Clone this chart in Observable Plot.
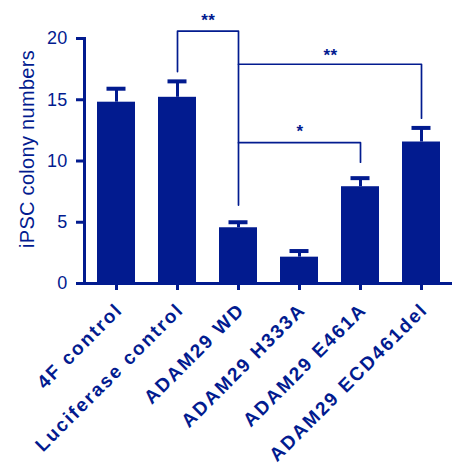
<!DOCTYPE html>
<html>
<head>
<meta charset="utf-8">
<script src="https://cdn.jsdelivr.net/npm/d3@7"></script>
<script src="https://cdn.jsdelivr.net/npm/@observablehq/plot@0.6"></script>
<style>
  body { margin: 0; background: #fff; }
</style>
</head>
<body>
<div id="chart"></div>
<script>
// Colony counts per transduction group (mean and SEM)
const groups = ["4F control", "Luciferase control", "ADAM29 WD", "ADAM29 H333A", "ADAM29 E461A", "ADAM29 ECD461del"];
const colonies = [14.8, 15.2, 4.55, 2.15, 7.9, 11.55];
const sem = [1.1, 1.3, 0.45, 0.5, 0.7, 1.15];
const yTicks = [0, 5, 10, 15, 20];
const yTitle = "iPSC colony numbers";

// Significance brackets: compared groups, bracket level, leg ends, star label
const bracketFrom = ["Luciferase control", "ADAM29 WD", "ADAM29 WD"];
const bracketTo = ["ADAM29 WD", "ADAM29 ECD461del", "ADAM29 E461A"];
const bracketLevel = [20.6, 17.9, 11.5];
const bracketFromEnd = [17.3, 17.9, 11.5];
const bracketToEnd = [6.4, 13.5, 9.9];
const sigLabels = ["**", "**", "*"];
const sigLabelY = [21.5, 18.6, 12.4];

const navy = "#021b8f";
const W = 456, H = 467;
const M = {top: 38, right: 4, bottom: 184, left: 84};
const paddingInner = 0.38, paddingOuter = 0.19;
const step = (W - M.left - M.right) / (groups.length - paddingInner + 2 * paddingOuter);

const bars = groups.map((g, i) => ({group: g, value: colonies[i], err: sem[i]}));

const bracketPoints = bracketFrom.flatMap((from, k) => [
  {k, group: from, y: bracketFromEnd[k]},
  {k, group: from, y: bracketLevel[k]},
  {k, group: bracketTo[k], y: bracketLevel[k]},
  {k, group: bracketTo[k], y: bracketToEnd[k]}
]);

// star labels sit midway between the two compared bars
const sigText = sigLabels.map((s, k) => ({
  group: bracketFrom[k],
  y: sigLabelY[k],
  text: s,
  shift: (groups.indexOf(bracketTo[k]) - groups.indexOf(bracketFrom[k])) * step / 2
}));

const chart = Plot.plot({
  width: W,
  height: H,
  marginTop: M.top,
  marginRight: M.right,
  marginBottom: M.bottom,
  marginLeft: M.left,
  style: {fontFamily: "'Liberation Sans', Arial, sans-serif", color: navy, background: "#fff", letterSpacing: "0.3px"},
  x: {domain: groups, paddingInner, paddingOuter},
  y: {domain: [0, 20]},
  marks: [
    Plot.barY(bars, {x: "group", y: "value", fill: navy}),
    Plot.ruleX(bars, {x: "group", y1: "value", y2: d => d.value + d.err, stroke: navy, strokeWidth: 3}),
    Plot.tickY(bars, {x: "group", y: d => d.value + d.err, stroke: navy, strokeWidth: 4, inset: 9.5}),
    Plot.line(bracketPoints, {x: "group", y: "y", z: "k", stroke: navy, strokeWidth: 1.7, curve: "linear"}),
    ...sigText.map(d => Plot.text([d], {x: "group", y: "y", text: "text", dx: d.shift, fill: navy, fontSize: 17, fontWeight: "bold"})),
    Plot.ruleY([0], {stroke: navy, strokeWidth: 3}),
    Plot.frame({anchor: "left", stroke: navy, strokeWidth: 3}),
    Plot.axisY({
      ticks: yTicks, tickSize: 8, tickPadding: 9, strokeWidth: 3, stroke: navy, fill: navy,
      fontSize: 18, label: null
    }),
    Plot.text([yTitle], {frameAnchor: "left", textAnchor: "middle", rotate: -90, dx: -57, dy: -12, fontSize: 20, fill: navy}),
    // tick marks only
    Plot.axisX({tickSize: 7, strokeWidth: 3, stroke: navy, fill: "none", label: null}),
    // rotated category labels
    Plot.axisX({
      tickSize: 0, tickRotate: -45, tickPadding: 23, dx: 3,
      fontSize: 19, fontWeight: "bold", fill: navy, label: null
    })
  ]
});

// wider tracking on the category labels
chart.querySelectorAll('g[aria-label="x-axis tick label"]').forEach(g => g.style.letterSpacing = "2px");

document.getElementById("chart").appendChild(chart);
</script>
</body>
</html>
